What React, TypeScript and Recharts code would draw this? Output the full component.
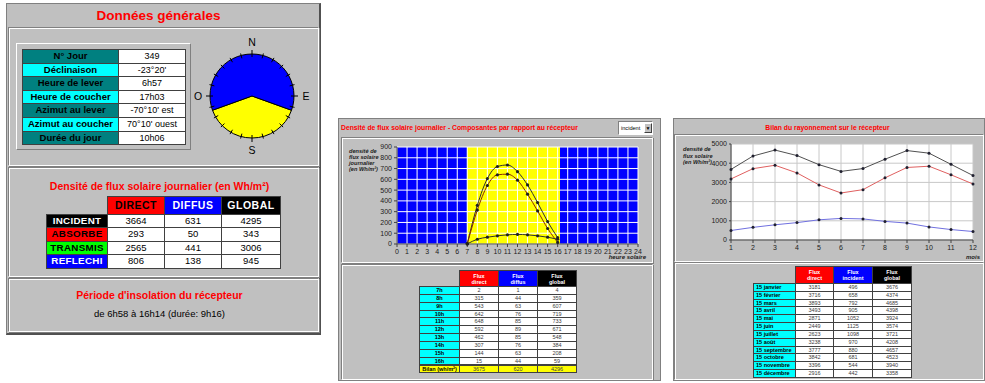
import React from "react";
import {
  CartesianGrid,
  Cell,
  Line,
  LineChart,
  Pie,
  PieChart,
  ReferenceArea,
  XAxis,
  YAxis,
} from "recharts";

// --- Données générales
const GENERAL_LABELS = [
  "N° Jour",
  "Déclinaison",
  "Heure de lever",
  "Heure de coucher",
  "Azimut au lever",
  "Azimut au coucher",
  "Durée du jour",
];
const GENERAL_VALUES = ["349", "-23°20'", "6h57", "17h03", "-70°10' est", "70°10' ouest", "10h06"];
const SUN_AZIMUTH = 70 + 10 / 60; // azimut au lever / coucher

// --- Densité de flux solaire journalier (Wh/m²)
const DENSITY_COLUMNS = ["DIRECT", "DIFFUS", "GLOBAL"];
const DENSITY_ROWS = ["INCIDENT", "ABSORBE", "TRANSMIS", "REFLECHI"];
const DENSITY_DIRECT = [3664, 293, 2565, 806];
const DENSITY_DIFFUS = [631, 50, 441, 138];
const DENSITY_GLOBAL = [4295, 343, 3006, 945];

// --- composantes horaires
const HOURS = [7, 8, 9, 10, 11, 12, 13, 14, 15, 16];
const HOUR_LABELS = ["7h", "8h", "9h", "10h", "11h", "12h", "13h", "14h", "15h", "16h"];
const HOURLY_DIRECT = [2, 315, 543, 642, 648, 592, 462, 307, 144, 15];
const HOURLY_DIFFUS = [1, 44, 63, 76, 85, 89, 85, 76, 63, 44];
const HOURLY_GLOBAL = [4, 359, 607, 719, 733, 671, 548, 384, 208, 59];
const HOURLY_TOTALS = [3675, 620, 4296];
const INSOLATION = [6 + 58 / 60, 16 + 14 / 60];
const HOUR_TICKS = [0, 1, 2, 3, 4, 5, 6, 7, 8, 9, 10, 11, 12, 13, 14, 15, 16, 17, 18, 19, 20, 21, 22, 23, 24];
const HOUR_FLUX_TICKS = [0, 100, 200, 300, 400, 500, 600, 700, 800, 900];

// --- bilan mensuel
const MONTHS = [1, 2, 3, 4, 5, 6, 7, 8, 9, 10, 11, 12];
const MONTH_LABELS = [
  "15 janvier", "15 février", "15 mars", "15 avril", "15 mai", "15 juin",
  "15 juillet", "15 août", "15 septembre", "15 octobre", "15 novembre", "15 décembre",
];
const MONTHLY_DIRECT = [3181, 3716, 3893, 3493, 2871, 2449, 2623, 3238, 3777, 3842, 3396, 2916];
const MONTHLY_DIFFUS = [496, 658, 792, 905, 1052, 1125, 1098, 970, 880, 681, 544, 442];
const MONTHLY_GLOBAL = [3676, 4374, 4685, 4398, 3924, 3574, 3721, 4208, 4657, 4523, 3940, 3358];
const MONTH_FLUX_TICKS = [0, 1000, 2000, 3000, 4000, 5000];

const GRAY = "#c0c0c0";
const FONT = "'Liberation Sans', Arial, sans-serif";

const hourly = HOURS.map((h, i) => ({
  hour: h,
  direct: HOURLY_DIRECT[i],
  diffus: HOURLY_DIFFUS[i],
  global: HOURLY_GLOBAL[i],
}));

const monthly = MONTHS.map((m, i) => ({
  month: m,
  direct: MONTHLY_DIRECT[i],
  diffus: MONTHLY_DIFFUS[i],
  global: MONTHLY_GLOBAL[i],
}));

const compass = [
  { name: "jour", value: 2 * SUN_AZIMUTH, fill: "#ffff00" },
  { name: "nuit", value: 360 - 2 * SUN_AZIMUTH, fill: "#0000ff" },
];

type BoxProps = {
  x: number;
  y: number;
  w: number;
  h: number;
  style?: React.CSSProperties;
  children?: React.ReactNode;
};

function Box({ x, y, w, h, style, children }: BoxProps) {
  return (
    <div
      style={{
        position: "absolute",
        left: x,
        top: y,
        width: w,
        height: h,
        boxSizing: "border-box",
        ...style,
      }}
    >
      {children}
    </div>
  );
}

const groove: React.CSSProperties = {
  borderTop: "1px solid #808080",
  borderLeft: "1px solid #808080",
  borderBottom: "1px solid #ffffff",
  borderRight: "1px solid #ffffff",
  boxShadow: "inset 1px 1px 0 #ffffff, 1px 1px 0 #808080",
};

function TCell({
  x, y, w, h, text, bg, color = "#000", size = 10, bold = false, align = "center", pad = 0, spacing = 0,
}: {
  x: number; y: number; w: number; h: number; text: string | number; bg: string;
  color?: string; size?: number; bold?: boolean; align?: "center" | "left"; pad?: number; spacing?: number;
}) {
  return (
    <Box
      x={x}
      y={y}
      w={w + 1}
      h={h + 1}
      style={{
        background: bg,
        border: "1px solid #404040",
        color,
        fontSize: size,
        fontWeight: bold ? 700 : 400,
        lineHeight: `${h - 1}px`,
        textAlign: align,
        paddingLeft: pad,
        letterSpacing: spacing,
        whiteSpace: "nowrap",
        overflow: "hidden",
        fontFamily: FONT,
      }}
    >
      {text}
    </Box>
  );
}

function Compass() {
  const cx = 252;
  const cy = 96;
  const r = 42;
  const ticks = Array.from({ length: 24 }, (_, i) => i * 15);
  return (
    <>
      <Box x={cx - 50} y={cy - 50} w={100} h={100}>
        <PieChart width={100} height={100} margin={{ top: 0, right: 0, bottom: 0, left: 0 }}>
          <Pie
            data={compass}
            dataKey="value"
            nameKey="name"
            cx={50}
            cy={50}
            outerRadius={r}
            startAngle={-90 - SUN_AZIMUTH}
            endAngle={270 - SUN_AZIMUTH}
            stroke="#000"
            strokeWidth={1}
            isAnimationActive={false}
          >
            {compass.map((c) => (
              <Cell key={c.name} fill={c.fill} />
            ))}
          </Pie>
        </PieChart>
      </Box>
      <svg style={{ position: "absolute", left: cx - 50, top: cy - 50 }} width={100} height={100}>
        {ticks.map((a) => {
          const rad = (a * Math.PI) / 180;
          const big = a % 90 === 0;
          const r1 = r - 3;
          const r2 = r + (big ? 4 : 2);
          return (
            <line
              key={a}
              x1={50 + r1 * Math.cos(rad)}
              y1={50 + r1 * Math.sin(rad)}
              x2={50 + r2 * Math.cos(rad)}
              y2={50 + r2 * Math.sin(rad)}
              stroke="#000"
              strokeWidth={1}
            />
          );
        })}
      </svg>
      {[
        ["N", cx, 42],
        ["S", cx, 150],
        ["O", 198, cy],
        ["E", 306, cy],
      ].map(([t, x, y]) => (
        <Box key={t as string} x={(x as number) - 6} y={(y as number) - 7} w={12} h={14}
          style={{ fontSize: 10.5, lineHeight: "14px", textAlign: "center", fontFamily: FONT }}>
          {t}
        </Box>
      ))}
    </>
  );
}

function PanelGeneral() {
  const rowH = 13.6;
  const labelBgs = ["#008080", "#00ffff"];
  const headerBg = ["#ff0000", "#0000ff", "#000000"];
  const headerFg = ["#000", "#fff", "#fff"];
  const rowBg = ["#000000", "#ff0000", "#00ff00", "#0000ff"];
  const rowFg = ["#fff", "#000", "#000", "#fff"];
  const densCols = [DENSITY_DIRECT, DENSITY_DIFFUS, DENSITY_GLOBAL];
  const colX = [107, 164, 221, 280];
  return (
    <>
      <Box x={6} y={3} w={315} h={332} style={{ background: GRAY, border: "1px solid #808080", borderRight: "2px solid #505050", borderBottom: "2px solid #505050" }} />
      <Box x={6} y={5} w={315} h={22} style={{ color: "#ff0000", fontWeight: 700, fontSize: 13.5, lineHeight: "22px", textAlign: "center", fontFamily: FONT, paddingRight: 10 }}>
        Données générales
      </Box>
      <Box x={8} y={27} w={311} h={139} style={groove} />
      <Box x={16} y={43} w={175} h={107} style={{ border: "1px solid #ffffff", borderRight: "1px solid #808080", borderBottom: "1px solid #808080" }} />
      {GENERAL_LABELS.map((l, i) => (
        <React.Fragment key={l}>
          <TCell x={22} y={49 + i * rowH} w={96} h={rowH} text={l} bg={labelBgs[i % 2]} bold size={9.5} />
          <TCell x={118} y={49 + i * rowH} w={67} h={rowH} text={GENERAL_VALUES[i]} bg="#fff" size={9} />
        </React.Fragment>
      ))}
      <Compass />

      <Box x={8} y={167} w={311} h={110} style={groove} />
      <Box x={8} y={178} w={311} h={16} style={{ color: "#ff0000", fontWeight: 700, fontSize: 10.5, lineHeight: "16px", textAlign: "center", fontFamily: FONT, paddingRight: 8 }}>
        Densité de flux solaire journalier (en Wh/m²)
      </Box>
      {DENSITY_COLUMNS.map((c, j) => (
        <TCell key={c} x={colX[j]} y={196} w={colX[j + 1] - colX[j]} h={17.5} text={c} bg={headerBg[j]} color={headerFg[j]} bold size={10.5} spacing={0.5} />
      ))}
      {DENSITY_ROWS.map((r, i) => (
        <React.Fragment key={r}>
          <TCell x={46} y={213.5 + i * 13.6} w={61} h={13.6} text={r} bg={rowBg[i]} color={rowFg[i]} bold size={9.8} spacing={0.3} />
          {densCols.map((col, j) => (
            <TCell key={j} x={colX[j]} y={213.5 + i * 13.6} w={colX[j + 1] - colX[j]} h={13.6} text={col[i]} bg="#fff" size={9.5} />
          ))}
        </React.Fragment>
      ))}

      <Box x={8} y={278} w={311} h={54} style={groove} />
      <Box x={8} y={287} w={311} h={16} style={{ color: "#ff0000", fontWeight: 700, fontSize: 10.5, lineHeight: "16px", textAlign: "center", fontFamily: FONT, paddingRight: 8 }}>
        Période d'insolation du récepteur
      </Box>
      <Box x={8} y={307} w={311} h={14} style={{ color: "#000", fontSize: 9.5, lineHeight: "14px", textAlign: "center", fontFamily: FONT, paddingRight: 8 }}>
        de 6h58 à 16h14 (durée: 9h16)
      </Box>
    </>
  );
}

const tinyTick = { fontSize: 7, fill: "#202020", fontFamily: FONT };
const HOUR_MARGIN = { top: 10, right: 15, bottom: 0, left: 36 };

function PanelHourly() {
  const colX = [459, 498, 537, 576];
  const rowH = 7.85;
  const cols = [HOURLY_DIRECT, HOURLY_DIFFUS, HOURLY_GLOBAL];
  const heads = [
    ["Flux", "direct", "#ff0000"],
    ["Flux", "diffus", "#0000ff"],
    ["Flux", "global", "#000000"],
  ];
  return (
    <>
      <Box x={338} y={118} w={323} h={263} style={{ background: GRAY, border: "1px solid #808080" }} />
      <Box x={341} y={121} w={270} h={14} style={{ color: "#ff0000", fontWeight: 700, fontSize: 6.8, lineHeight: "14px", fontFamily: FONT, whiteSpace: "nowrap" }}>
        Densité de flux solaire journalier - Composantes par rapport au récepteur
      </Box>
      <Box x={618} y={121} w={35} h={14} style={{ background: "#fff", borderTop: "1px solid #808080", borderLeft: "1px solid #808080", borderBottom: "1px solid #fff", borderRight: "1px solid #fff", fontSize: 5.6, lineHeight: "12px", paddingLeft: 2, fontFamily: FONT, whiteSpace: "nowrap" }}>
        incident
      </Box>
      <Box x={644} y={123} w={8} h={10} style={{ background: GRAY, borderTop: "1px solid #fff", borderLeft: "1px solid #fff", borderBottom: "1px solid #404040", borderRight: "1px solid #404040", fontSize: 5, lineHeight: "8px", textAlign: "center" }}>
        ▼
      </Box>

      <Box x={341} y={137} w={312} h={126} style={groove} />
      <Box x={344} y={148} w={40} h={30} style={{ fontSize: 5.6, lineHeight: "6px", fontWeight: 700, fontStyle: "italic", color: "#202020", fontFamily: FONT, paddingLeft: 5 }}>
        densité de<br />flux solaire<br />journalier<br />(en Wh/m²)
      </Box>
      {/* fond : période d'insolation */}
      <Box x={341} y={137} w={312} h={126}>
        <LineChart width={312} height={126} data={hourly} margin={HOUR_MARGIN}>
          <XAxis dataKey="hour" type="number" domain={[0, 24]} ticks={HOUR_TICKS} height={19}
            tick={false} axisLine={false} tickLine={false} />
          <YAxis type="number" domain={[0, 900]} ticks={HOUR_FLUX_TICKS} width={20}
            tick={false} axisLine={false} tickLine={false} />
          <Line dataKey="global" stroke="none" dot={false} isAnimationActive={false} />
          <ReferenceArea x1={0} x2={INSOLATION[0]} y1={0} y2={900} fill="#0000ff" fillOpacity={1} stroke="none" />
          <ReferenceArea x1={INSOLATION[0]} x2={INSOLATION[1]} y1={0} y2={900} fill="#ffff00" fillOpacity={1} stroke="none" />
          <ReferenceArea x1={INSOLATION[1]} x2={24} y1={0} y2={900} fill="#0000ff" fillOpacity={1} stroke="none" />
        </LineChart>
      </Box>
      <Box x={341} y={137} w={312} h={126}>
        <LineChart width={312} height={126} data={hourly} margin={HOUR_MARGIN}>
          <CartesianGrid stroke="#ffffff" strokeWidth={1} />
          <XAxis dataKey="hour" type="number" domain={[0, 24]} ticks={HOUR_TICKS} interval={0}
            height={19} tick={tinyTick} tickSize={3} stroke="#404040" />
          <YAxis type="number" domain={[0, 900]} ticks={HOUR_FLUX_TICKS} interval={0}
            width={20} tick={tinyTick} tickSize={3} stroke="#404040" />
          <Line dataKey="global" type="monotone" stroke="#303030" strokeWidth={1}
            dot={{ r: 1.6, fill: "#202020", stroke: "none" }} isAnimationActive={false} />
          <Line dataKey="direct" type="monotone" stroke="#8a2a00" strokeWidth={1}
            dot={{ r: 1.6, fill: "#202020", stroke: "none" }} isAnimationActive={false} />
          <Line dataKey="diffus" type="monotone" stroke="#303030" strokeWidth={1}
            dot={{ r: 1.6, fill: "#202020", stroke: "none" }} isAnimationActive={false} />
        </LineChart>
      </Box>
      <Box x={590} y={253} w={56} h={9} style={{ fontSize: 6, lineHeight: "9px", fontWeight: 700, fontStyle: "italic", textAlign: "right", color: "#202020", fontFamily: FONT }}>
        heure solaire
      </Box>

      <Box x={341} y={264} w={312} h={116} style={groove} />
      {heads.map(([a, b, bg], j) => (
        <Box key={b} x={colX[j]} y={270} w={colX[j + 1] - colX[j] + 1} h={17}
          style={{ background: bg, border: "1px solid #404040", color: "#fff", fontSize: 5.5, lineHeight: "6px", textAlign: "center", paddingTop: 2, fontFamily: FONT, fontWeight: 700 }}>
          {a}<br />{b}
        </Box>
      ))}
      {HOUR_LABELS.map((l, i) => (
        <React.Fragment key={l}>
          <TCell x={419} y={286 + i * rowH} w={40} h={rowH} text={l} bg="#00ffff" bold size={5.5} />
          {cols.map((c, j) => (
            <TCell key={j} x={colX[j]} y={286 + i * rowH} w={colX[j + 1] - colX[j]} h={rowH} text={c[i]} bg="#fff" color="#404040" size={5.5} />
          ))}
        </React.Fragment>
      ))}
      <TCell x={419} y={286 + 10 * rowH} w={40} h={rowH} text="Bilan (wh/m²)" bg="#ffff00" bold size={5.5} />
      {HOURLY_TOTALS.map((t, j) => (
        <TCell key={j} x={colX[j]} y={286 + 10 * rowH} w={colX[j + 1] - colX[j]} h={rowH} text={t} bg="#ffff00" color="#404040" size={5.5} />
      ))}
    </>
  );
}

function PanelMonthly() {
  const colX = [795, 833, 872, 911];
  const rowH = 7.83;
  const cols = [MONTHLY_DIRECT, MONTHLY_DIFFUS, MONTHLY_GLOBAL];
  const heads = [
    ["Flux", "direct", "#ff0000"],
    ["Flux", "incident", "#0000ff"],
    ["Flux", "global", "#000000"],
  ];
  return (
    <>
      <Box x={673} y={118} w={312} h={263} style={{ background: GRAY, border: "1px solid #808080" }} />
      <Box x={673} y={121} w={312} h={13} style={{ color: "#ff0000", fontWeight: 700, fontSize: 6.8, lineHeight: "13px", textAlign: "center", fontFamily: FONT, paddingRight: 3 }}>
        Bilan du rayonnement sur le récepteur
      </Box>
      <Box x={674} y={134} w={310} h={128} style={groove} />
      <Box x={678} y={146} w={40} h={24} style={{ fontSize: 5.6, lineHeight: "6.5px", fontWeight: 700, fontStyle: "italic", color: "#202020", fontFamily: FONT, paddingLeft: 5 }}>
        densité de<br />flux solaire<br />(en Wh/m²)
      </Box>
      <Box x={674} y={134} w={310} h={128}>
        <LineChart width={310} height={128} data={monthly} margin={{ top: 10, right: 11, bottom: 0, left: 38 }}>
          <CartesianGrid stroke="#c8c8c8" fill="#ffffff" strokeWidth={1} />
          <XAxis dataKey="month" type="number" domain={[1, 12]} ticks={MONTHS} interval={0}
            height={22} tick={tinyTick} tickSize={3} stroke="#404040" />
          <YAxis type="number" domain={[0, 5000]} ticks={MONTH_FLUX_TICKS} interval={0}
            width={19} tick={tinyTick} tickSize={2} stroke="#404040" />
          <Line dataKey="global" type="linear" stroke="#505050" strokeWidth={1}
            dot={{ r: 1.5, fill: "#202030", stroke: "none" }} isAnimationActive={false} />
          <Line dataKey="direct" type="linear" stroke="#e06060" strokeWidth={1}
            dot={{ r: 1.5, fill: "#202030", stroke: "none" }} isAnimationActive={false} />
          <Line dataKey="diffus" type="linear" stroke="#7070e0" strokeWidth={1}
            dot={{ r: 1.5, fill: "#202030", stroke: "none" }} isAnimationActive={false} />
        </LineChart>
      </Box>
      <Box x={940} y={253} w={40} h={9} style={{ fontSize: 6, lineHeight: "9px", fontWeight: 700, fontStyle: "italic", textAlign: "right", color: "#202020", fontFamily: FONT }}>
        mois
      </Box>

      <Box x={674} y={262} w={310} h={118} style={groove} />
      {heads.map(([a, b, bg], j) => (
        <Box key={b} x={colX[j]} y={266} w={colX[j + 1] - colX[j] + 1} h={18}
          style={{ background: bg, border: "1px solid #404040", color: "#fff", fontSize: 5.5, lineHeight: "6px", textAlign: "center", paddingTop: 2, fontFamily: FONT, fontWeight: 700 }}>
          {a}<br />{b}
        </Box>
      ))}
      {MONTH_LABELS.map((l, i) => (
        <React.Fragment key={l}>
          <TCell x={753} y={283 + i * rowH} w={42} h={rowH} text={l} bg="#00ffff" bold size={5.5} align="left" pad={2} />
          {cols.map((c, j) => (
            <TCell key={j} x={colX[j]} y={283 + i * rowH} w={(colX[j + 1] ?? 950) - colX[j]} h={rowH} text={c[i]} bg="#fff" color="#404040" size={5.5} />
          ))}
        </React.Fragment>
      ))}
    </>
  );
}

export default function App() {
  return (
    <div style={{ position: "absolute", left: 0, top: 0, width: 985, height: 383, background: "#fff", overflow: "hidden", fontFamily: FONT }}>
      <PanelGeneral />
      <PanelHourly />
      <PanelMonthly />
    </div>
  );
}
